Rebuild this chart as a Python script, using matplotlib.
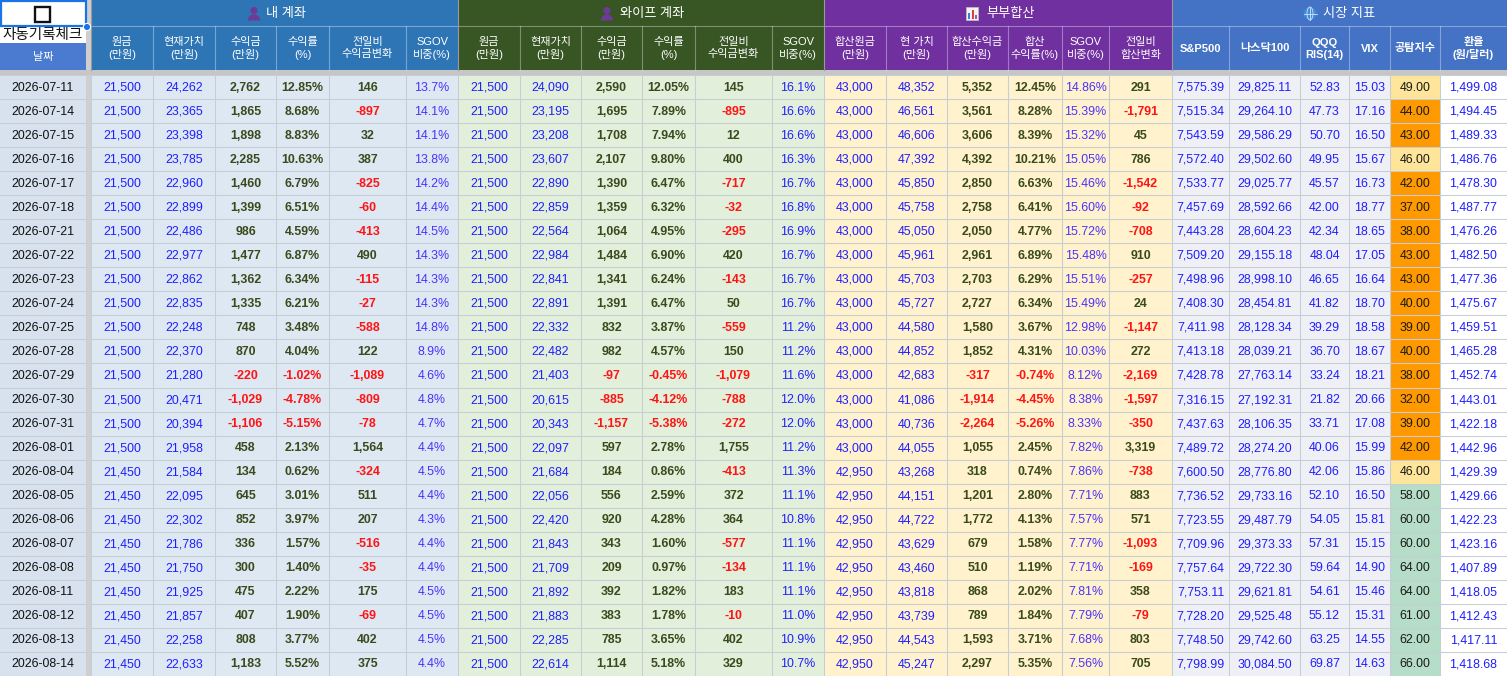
import matplotlib
matplotlib.use('Agg')
import matplotlib.pyplot as plt
from matplotlib.patches import Rectangle, Circle, Ellipse, Wedge

plt.rcParams['font.family'] = ['Liberation Sans', 'Noto Sans CJK KR', 'DejaVu Sans']

# ---- data read from the sheet ----
dates = ['2026-07-11', '2026-07-14', '2026-07-15', '2026-07-16', '2026-07-17', '2026-07-18',
         '2026-07-21', '2026-07-22', '2026-07-23', '2026-07-24', '2026-07-25', '2026-07-28',
         '2026-07-29', '2026-07-30', '2026-07-31', '2026-08-01', '2026-08-04', '2026-08-05',
         '2026-08-06', '2026-08-07', '2026-08-08', '2026-08-11', '2026-08-12', '2026-08-13',
         '2026-08-14']

# 내 계좌
my_principal = [21500] * 16 + [21450] * 9
my_value = [24262, 23365, 23398, 23785, 22960, 22899, 22486, 22977, 22862, 22835, 22248, 22370,
            21280, 20471, 20394, 21958, 21584, 22095, 22302, 21786, 21750, 21925, 21857, 22258, 22633]
my_profit = [2762, 1865, 1898, 2285, 1460, 1399, 986, 1477, 1362, 1335, 748, 870,
             -220, -1029, -1106, 458, 134, 645, 852, 336, 300, 475, 407, 808, 1183]
my_rate = [12.85, 8.68, 8.83, 10.63, 6.79, 6.51, 4.59, 6.87, 6.34, 6.21, 3.48, 4.04,
           -1.02, -4.78, -5.15, 2.13, 0.62, 3.01, 3.97, 1.57, 1.40, 2.22, 1.90, 3.77, 5.52]
my_change = [146, -897, 32, 387, -825, -60, -413, 490, -115, -27, -588, 122,
             -1089, -809, -78, 1564, -324, 511, 207, -516, -35, 175, -69, 402, 375]
my_sgov = [13.7, 14.1, 14.1, 13.8, 14.2, 14.4, 14.5, 14.3, 14.3, 14.3, 14.8, 8.9,
           4.6, 4.8, 4.7, 4.4, 4.5, 4.4, 4.3, 4.4, 4.4, 4.5, 4.5, 4.5, 4.4]

# 와이프 계좌
wf_principal = [21500] * 25
wf_value = [24090, 23195, 23208, 23607, 22890, 22859, 22564, 22984, 22841, 22891, 22332, 22482,
            21403, 20615, 20343, 22097, 21684, 22056, 22420, 21843, 21709, 21892, 21883, 22285, 22614]
wf_profit = [2590, 1695, 1708, 2107, 1390, 1359, 1064, 1484, 1341, 1391, 832, 982,
             -97, -885, -1157, 597, 184, 556, 920, 343, 209, 392, 383, 785, 1114]
wf_rate = [12.05, 7.89, 7.94, 9.80, 6.47, 6.32, 4.95, 6.90, 6.24, 6.47, 3.87, 4.57,
           -0.45, -4.12, -5.38, 2.78, 0.86, 2.59, 4.28, 1.60, 0.97, 1.82, 1.78, 3.65, 5.18]
wf_change = [145, -895, 12, 400, -717, -32, -295, 420, -143, 50, -559, 150,
             -1079, -788, -272, 1755, -413, 372, 364, -577, -134, 183, -10, 402, 329]
wf_sgov = [16.1, 16.6, 16.6, 16.3, 16.7, 16.8, 16.9, 16.7, 16.7, 16.7, 11.2, 11.2,
           11.6, 12.0, 12.0, 11.2, 11.3, 11.1, 10.8, 11.1, 11.1, 11.1, 11.0, 10.9, 10.7]

# 부부합산
cb_principal = [43000] * 16 + [42950] * 9
cb_value = [48352, 46561, 46606, 47392, 45850, 45758, 45050, 45961, 45703, 45727, 44580, 44852,
            42683, 41086, 40736, 44055, 43268, 44151, 44722, 43629, 43460, 43818, 43739, 44543, 45247]
cb_profit = [5352, 3561, 3606, 4392, 2850, 2758, 2050, 2961, 2703, 2727, 1580, 1852,
             -317, -1914, -2264, 1055, 318, 1201, 1772, 679, 510, 868, 789, 1593, 2297]
cb_rate = [12.45, 8.28, 8.39, 10.21, 6.63, 6.41, 4.77, 6.89, 6.29, 6.34, 3.67, 4.31,
           -0.74, -4.45, -5.26, 2.45, 0.74, 2.80, 4.13, 1.58, 1.19, 2.02, 1.84, 3.71, 5.35]
cb_sgov = [14.86, 15.39, 15.32, 15.05, 15.46, 15.60, 15.72, 15.48, 15.51, 15.49, 12.98, 10.03,
           8.12, 8.38, 8.33, 7.82, 7.86, 7.71, 7.57, 7.77, 7.71, 7.81, 7.79, 7.68, 7.56]
cb_change = [291, -1791, 45, 786, -1542, -92, -708, 910, -257, 24, -1147, 272,
             -2169, -1597, -350, 3319, -738, 883, 571, -1093, -169, 358, -79, 803, 705]

# 시장 지표
sp500 = [7575.39, 7515.34, 7543.59, 7572.40, 7533.77, 7457.69, 7443.28, 7509.20, 7498.96, 7408.30,
         7411.98, 7413.18, 7428.78, 7316.15, 7437.63, 7489.72, 7600.50, 7736.52, 7723.55, 7709.96,
         7757.64, 7753.11, 7728.20, 7748.50, 7798.99]
ndx100 = [29825.11, 29264.10, 29586.29, 29502.60, 29025.77, 28592.66, 28604.23, 29155.18, 28998.10,
          28454.81, 28128.34, 28039.21, 27763.14, 27192.31, 28106.35, 28274.20, 28776.80, 29733.16,
          29487.79, 29373.33, 29722.30, 29621.81, 29525.48, 29742.60, 30084.50]
qqq_rsi = [52.83, 47.73, 50.70, 49.95, 45.57, 42.00, 42.34, 48.04, 46.65, 41.82, 39.29, 36.70,
           33.24, 21.82, 33.71, 40.06, 42.06, 52.10, 54.05, 57.31, 59.64, 54.61, 55.12, 63.25, 69.87]
vix = [15.03, 17.16, 16.50, 15.67, 16.73, 18.77, 18.65, 17.05, 16.64, 18.70, 18.58, 18.67,
       18.21, 20.66, 17.08, 15.99, 15.86, 16.50, 15.81, 15.15, 14.90, 15.46, 15.31, 14.55, 14.63]
fear_greed = [49, 44, 43, 46, 42, 37, 38, 43, 43, 40, 39, 40, 38, 32, 39, 42, 46, 58, 60, 60,
              64, 64, 61, 62, 66]
usd_krw = [1499.08, 1494.45, 1489.33, 1486.76, 1478.30, 1487.77, 1476.26, 1482.50, 1477.36, 1475.67,
           1459.51, 1465.28, 1452.74, 1443.01, 1422.18, 1442.96, 1429.39, 1429.66, 1422.23, 1423.16,
           1407.89, 1418.05, 1412.43, 1417.11, 1418.68]

group_titles = ['내 계좌', '와이프 계좌', '부부합산', '시장 지표']
acct_headers = ['원금\n(만원)', '현재가치\n(만원)', '수익금\n(만원)', '수익률\n(%)', '전일비\n수익금변화', 'SGOV\n비중(%)']
cb_headers = ['합산원금\n(만원)', '현 가치\n(만원)', '합산수익금\n(만원)', '합산\n수익률(%)', 'SGOV\n비중(%)', '전일비\n합산변화']
mk_headers = ['S&P500', '나스닥100', 'QQQ\nRIS(14)', 'VIX', '공탐지수', '환율\n(원/달러)']

# ---- layout / style ----
W, H = 1507, 676
edges = [91, 153, 215, 276, 329, 406, 458, 520, 581, 642, 695, 772, 824,
         886, 947, 1008, 1062, 1109, 1172, 1229, 1300, 1349, 1390, 1440, 1507]
Y0, RH = 75, 24.04
BLUE = '#1f1fff'
SGOV_C = '#4a33ff'
DARK = '#3a4a1c'
RED = '#ff1414'
group_head = ['#2e75b6', '#375623', '#7030a0', '#4472c4']
group_bg = ['#dde8f2', '#e2efda', '#fff2cc', '#efeff6']
GRID = '#c7cdd4'
FS = 8.9


def fmt_int(v):
    return f'{v:,}'


def fmt_pct2(v):
    return f'{v:.2f}%'


def fmt_pct1(v):
    return f'{v:.1f}%'


def fmt_num2(v):
    return f'{v:,.2f}'


def signed(v):
    return DARK if v >= 0 else RED


def fear_bg(v):
    if v < 46:
        return '#ff9900'
    if v <= 55:
        return '#ffe599'
    return '#b5ddc7'


# (values, formatter, text colour function, bold)
columns = [
    (my_principal, fmt_int, lambda v: BLUE, False),
    (my_value, fmt_int, lambda v: BLUE, False),
    (my_profit, fmt_int, signed, True),
    (my_rate, fmt_pct2, signed, True),
    (my_change, fmt_int, signed, True),
    (my_sgov, fmt_pct1, lambda v: SGOV_C, False),
    (wf_principal, fmt_int, lambda v: BLUE, False),
    (wf_value, fmt_int, lambda v: BLUE, False),
    (wf_profit, fmt_int, signed, True),
    (wf_rate, fmt_pct2, signed, True),
    (wf_change, fmt_int, signed, True),
    (wf_sgov, fmt_pct1, lambda v: BLUE, False),
    (cb_principal, fmt_int, lambda v: BLUE, False),
    (cb_value, fmt_int, lambda v: BLUE, False),
    (cb_profit, fmt_int, signed, True),
    (cb_rate, fmt_pct2, signed, True),
    (cb_sgov, fmt_pct2, lambda v: SGOV_C, False),
    (cb_change, fmt_int, signed, True),
    (sp500, fmt_num2, lambda v: BLUE, False),
    (ndx100, fmt_num2, lambda v: BLUE, False),
    (qqq_rsi, fmt_num2, lambda v: BLUE, False),
    (vix, fmt_num2, lambda v: BLUE, False),
    (fear_greed, fmt_num2, lambda v: '#1a1a1a', False),
    (usd_krw, fmt_num2, lambda v: BLUE, False),
]

fig = plt.figure(figsize=(W / 100, H / 100), dpi=100)
ax = fig.add_axes([0, 0, 1, 1])
ax.set_xlim(0, W)
ax.set_ylim(H, 0)
ax.axis('off')


def rect(x, y, w, h, fc, ec='none', lw=0, z=1):
    ax.add_patch(Rectangle((x, y), w, h, facecolor=fc, edgecolor=ec, linewidth=lw, zorder=z))


# background pieces
rect(0, 0, W, H, '#ffffff', z=0)
rect(86, 0, 5, H, '#cfcfcf')
rect(0, 70, W, 5, '#c6c6c6')

# date column header
rect(0, 0, 86, 43, '#ffffff')
rect(35, 7, 15, 15, 'none', ec='#111111', lw=1.7, z=4)
ax.add_patch(Rectangle((0.8, 0.8), 85.5, 25.5, facecolor='none', edgecolor='#1a73e8', linewidth=1.6, zorder=5))
ax.add_patch(Circle((87, 27), 3.6, facecolor='#1a73e8', edgecolor='white', linewidth=0.8, zorder=6))
ax.text(43, 35, '자동기록체크', ha='center', va='center', fontsize=10.5, color='#111111', zorder=4)
rect(0, 43, 86, 27, '#4a7bd0')
ax.text(43, 57, '날짜', ha='center', va='center', fontsize=8, color='white')

# group headers
for g in range(4):
    x0, x1 = edges[g * 6], edges[g * 6 + 6]
    rect(x0, 0, x1 - x0, 70, group_head[g])
    ax.plot([x0, x1], [26, 26], color='white', alpha=0.35, lw=0.8, zorder=2)
    for k in range(g * 6 + 1, g * 6 + 6):
        ax.plot([edges[k], edges[k]], [26, 70], color='white', alpha=0.35, lw=0.8, zorder=2)
    ax.plot([x0, x0], [0, 70], color='#9a9a9a', lw=0.8, zorder=2)

# icons + titles
title_x = [266, 620, 986, 1323]
for g, t in enumerate(group_titles):
    ax.text(title_x[g], 13.5, t, ha='left', va='center', fontsize=9.5, color='white', zorder=4)
# person icons
for cx in (254, 607):
    ax.add_patch(Circle((cx, 10.5), 3.6, facecolor='#6c3b96', zorder=4))
    ax.add_patch(Wedge((cx, 20.5), 6.2, 180, 360, facecolor='#6c3b96', zorder=4))
# chart icon
rect(966, 7, 12, 13, '#f4f4f4', ec='#bdbdbd', lw=0.6, z=4)
for bx, bh, bc in ((968, 6, '#3b7dd8'), (971.5, 9, '#e0403a'), (975, 4, '#9b59b6')):
    rect(bx, 18.5 - bh, 2.3, bh, bc, z=5)
# globe icon
ax.add_patch(Circle((1310, 13.5), 6.5, facecolor='#3d8bd9', zorder=4))
ax.add_patch(Ellipse((1310, 13.5), 6, 13, facecolor='none', edgecolor='#cfe4f7', lw=0.6, zorder=5))
ax.plot([1303.5, 1316.5], [13.5, 13.5], color='#cfe4f7', lw=0.6, zorder=5)
ax.plot([1310, 1310], [7, 20], color='#cfe4f7', lw=0.6, zorder=5)

# sub headers
sub_headers = acct_headers + acct_headers + cb_headers + mk_headers
for k, lab in enumerate(sub_headers):
    cx = (edges[k] + edges[k + 1]) / 2
    ax.text(cx, 48.5, lab, ha='center', va='center', fontsize=8, color='white',
            linespacing=1.25, fontweight='bold' if k >= 18 else 'medium', zorder=4)

# data body
n = len(dates)
for i in range(n):
    y = Y0 + i * RH
    cy = y + RH / 2
    rect(0, y, 86, RH, '#d7e2ee')
    ax.text(43, cy + 0.5, dates[i], ha='center', va='center', fontsize=FS, color='#111111', zorder=4)
    for k, (vals, fmt, cfun, bold) in enumerate(columns):
        x0, x1 = edges[k], edges[k + 1]
        v = vals[i]
        if k == 22:
            bg = fear_bg(v)
        elif k == 23:
            bg = '#ffffff'
        else:
            bg = group_bg[k // 6]
        rect(x0, y, x1 - x0, RH, bg)
        ax.text((x0 + x1) / 2, cy + 0.5, fmt(v), ha='center', va='center', fontsize=FS,
                color=cfun(v), fontweight='bold' if bold else 'normal', zorder=4)

# grid lines
for i in range(n + 1):
    y = Y0 + i * RH
    ax.plot([0, 86], [y, y], color=GRID, lw=0.75, zorder=3)
    ax.plot([91, W], [y, y], color=GRID, lw=0.75, zorder=3)
for e in edges:
    ax.plot([e, e], [Y0, H], color=GRID, lw=0.75, zorder=3)

fig.savefig('out.png', dpi=100)
